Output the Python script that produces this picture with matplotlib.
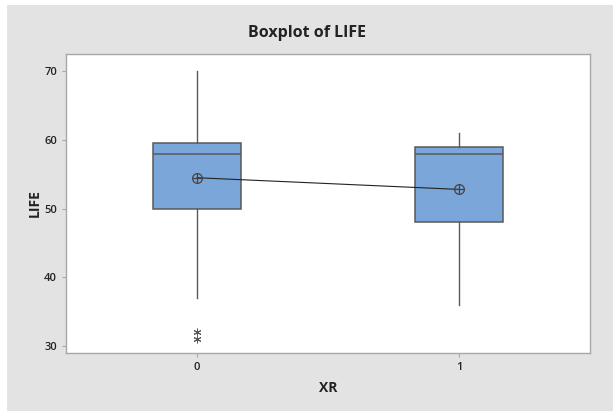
import matplotlib.pyplot as plt
from matplotlib.patches import Rectangle

## boxplot summary for LIFE by XR
groups = ["0", "1"]
q1 = [50.0, 48.0]
median = [58.0, 58.0]
q3 = [59.5, 59.0]
whisker_low = [37.0, 36.0]
whisker_high = [70.0, 61.0]
means = [54.5, 52.8]
outliers = [[32.0, 31.0], []]

BOX_BLUE = "#7ba6da"
EDGE = "#5a5a5a"
PANEL = "#e3e3e3"

plt.rcParams["font.family"] = ["Open Sans", "DejaVu Sans"]

fig = plt.figure(figsize=(6.13, 4.11), dpi=100)
fig.patch.set_facecolor("white")
fig.patches.append(Rectangle((7 / 613, 0), 1, 1 - 5 / 411, transform=fig.transFigure,
                             facecolor=PANEL, edgecolor="none", zorder=-10))

ax = fig.add_axes([66 / 613, 1 - 353 / 411, (590 - 66) / 613, (353 - 54) / 411])
ax.set_facecolor("white")

stats = []
for i, g in enumerate(groups):
    stats.append(dict(label=g, q1=q1[i], med=median[i], q3=q3[i],
                      whislo=whisker_low[i], whishi=whisker_high[i], fliers=[]))

ax.bxp(stats, positions=range(len(groups)), widths=0.333, patch_artist=True,
       showcaps=False, showfliers=False,
       boxprops=dict(facecolor=BOX_BLUE, edgecolor=EDGE, linewidth=1.1),
       medianprops=dict(color=EDGE, linewidth=1.1),
       whiskerprops=dict(color=EDGE, linewidth=1.0))

# outliers as asterisks
for i, vals in enumerate(outliers):
    if vals:
        ax.plot([i] * len(vals), vals, linestyle="none", marker=(6, 2, 0),
                markersize=5.5, color="#555555", markeredgewidth=0.7, zorder=4)

# mean connect line and circle-cross symbols
xs = list(range(len(groups)))
ax.plot(xs, means, color="#222222", linewidth=0.8, zorder=4)
ax.plot(xs, means, linestyle="none", marker="o", markersize=7, markerfacecolor="none",
        markeredgecolor="#444444", markeredgewidth=0.9, zorder=5)
ax.plot(xs, means, linestyle="none", marker="+", markersize=7,
        markeredgecolor="#444444", markeredgewidth=0.9, zorder=5)

ax.set_xlim(-0.5, 1.5)
ax.set_ylim(29.0, 72.5)
ax.set_yticks([30, 40, 50, 60, 70])
ax.set_xticks(xs)
ax.set_xticklabels(groups)

for side in ax.spines.values():
    side.set_color("#a8a8a8")
    side.set_linewidth(1.0)
ax.tick_params(axis="both", colors="#a8a8a8", length=3, width=0.8, labelcolor="#222222",
               labelsize=8)
for lab in ax.get_xticklabels() + ax.get_yticklabels():
    lab.set_fontweight("semibold")

ax.set_xlabel("XR", fontsize=10, fontweight="bold", color="#222222", labelpad=6)
ax.set_ylabel("LIFE", fontsize=10, fontweight="bold", color="#222222", labelpad=2)
fig.text(0.5, 1 - 33 / 411, "Boxplot of LIFE", ha="center", va="center",
         fontsize=11.5, fontweight="bold", color="#222222")

fig.savefig("out.png", dpi=100)
